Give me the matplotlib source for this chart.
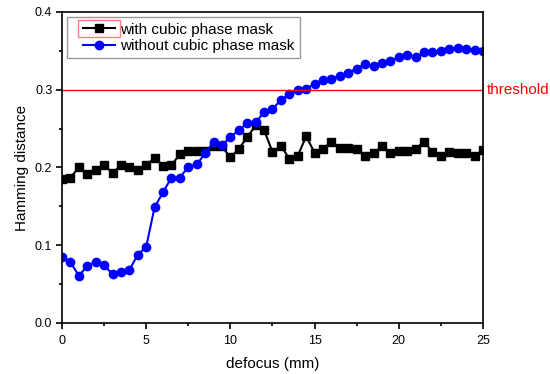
import matplotlib
matplotlib.use("Agg")
from matplotlib import pyplot as plt
from matplotlib.ticker import MultipleLocator, FormatStrFormatter
from matplotlib.patches import Rectangle
from matplotlib.lines import Line2D
from matplotlib.legend_handler import HandlerLine2D
import numpy as np

plt.rcParams['font.family'] = ['Liberation Sans', 'DejaVu Sans']

defocus = np.arange(0, 25.01, 0.5)

with_mask = [0.185, 0.187, 0.200, 0.192, 0.197, 0.203, 0.193, 0.203, 0.200, 0.197,
             0.203, 0.212, 0.202, 0.203, 0.217, 0.221, 0.221, 0.221, 0.227, 0.227,
             0.213, 0.224, 0.239, 0.254, 0.248, 0.220, 0.228, 0.211, 0.215, 0.240,
             0.219, 0.224, 0.233, 0.225, 0.225, 0.224, 0.215, 0.218, 0.227, 0.218,
             0.221, 0.221, 0.224, 0.233, 0.220, 0.215, 0.220, 0.219, 0.218, 0.215,
             0.222]

without_mask = [0.085, 0.078, 0.061, 0.073, 0.079, 0.074, 0.063, 0.066, 0.068, 0.088,
                0.098, 0.149, 0.168, 0.187, 0.187, 0.201, 0.204, 0.218, 0.233, 0.229,
                0.239, 0.248, 0.257, 0.258, 0.271, 0.275, 0.287, 0.294, 0.300, 0.301,
                0.308, 0.312, 0.314, 0.318, 0.322, 0.327, 0.333, 0.331, 0.334, 0.337,
                0.342, 0.345, 0.342, 0.348, 0.348, 0.350, 0.352, 0.354, 0.352, 0.351,
                0.350]

threshold = 0.3

fig = plt.figure(figsize=(5.5, 3.74), dpi=100)
ax = fig.add_axes([0.1127, 0.1364, 0.7655, 0.8316])

ax.plot(defocus, with_mask, color='black', marker='s', markersize=5.5, lw=1.5,
        label='with cubic phase mask')
ax.plot(defocus, without_mask, color='blue', marker='o', markersize=6, lw=1.5,
        label='without cubic phase mask')
ax.axhline(threshold, color='red', lw=1)
ax.text(25.25, threshold, 'threshold', color='red', fontsize=11, va='center',
        ha='left', clip_on=False)

ax.set_xlim(0, 25)
ax.set_ylim(0, 0.4)
ax.xaxis.set_major_locator(MultipleLocator(5))
ax.xaxis.set_minor_locator(MultipleLocator(2.5))
ax.yaxis.set_major_locator(MultipleLocator(0.1))
ax.yaxis.set_minor_locator(MultipleLocator(0.05))
ax.yaxis.set_major_formatter(FormatStrFormatter('%.1f'))
ax.tick_params(which='major', direction='out', length=4, width=1.2, labelsize=9, pad=3)
ax.tick_params(axis='x', which='major', pad=5)
ax.tick_params(which='minor', direction='out', length=2.5, width=1.2)
for s in ax.spines.values():
    s.set_linewidth(1.2)

ax.set_xlabel('defocus (mm)', fontsize=11, labelpad=6.5)
ax.set_ylabel('Hamming distance', fontsize=11, labelpad=4)

leg = ax.legend(loc='upper left', fontsize=11, frameon=True, fancybox=False,
                edgecolor='gray', borderpad=0.35, labelspacing=0.15,
                handlelength=2.8, handletextpad=0.3, borderaxespad=0.35,
                handler_map={Line2D: HandlerLine2D(xpad=0.65)})
leg.get_frame().set_linewidth(1)

# Origin leaves a red box round the first legend symbol
fig.canvas.draw()
bb = leg.get_lines()[0].get_window_extent()
fig.patches.append(Rectangle((bb.x0 - 1, bb.y0 + bb.height / 2 - 8.5), bb.width + 2, 17,
                             transform=None, fill=False, edgecolor='#ff8080', lw=1))

fig.savefig('out.png', dpi=100)
